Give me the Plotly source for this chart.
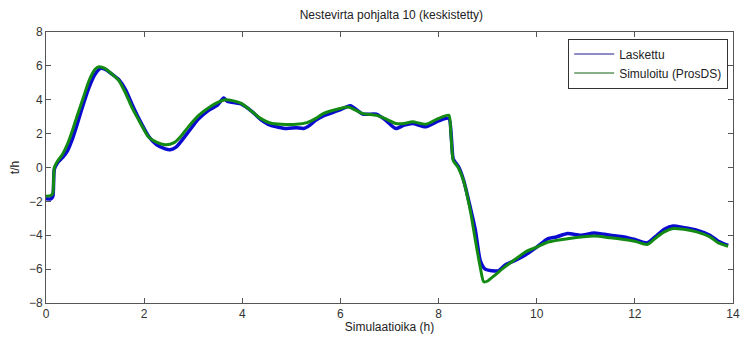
import plotly.graph_objects as go

# Simuloitu (ProsDS) - green
sim_x = [0, 0.1, 0.14, 0.17, 0.24, 0.34, 0.44, 0.54, 0.64, 0.74, 0.88, 1.0, 1.08, 1.2, 1.35, 1.48,
         1.62, 1.75, 1.89, 2.09, 2.25, 2.43, 2.6, 2.75, 2.9, 3.1, 3.3, 3.5, 3.66, 3.8, 3.97, 4.2,
         4.37, 4.57, 4.8, 5.1, 5.32, 5.5, 5.65, 5.99, 6.16, 6.3, 6.46, 6.73, 6.9, 7.13, 7.3, 7.47,
         7.74, 8.0, 8.21, 8.25, 8.3, 8.4, 8.51, 8.65, 8.75, 8.85, 8.92, 9.0, 9.15, 9.35, 9.55, 9.76,
         10.0, 10.23, 10.63, 11.17, 11.5, 11.78, 12.0, 12.25, 12.45, 12.6, 12.78, 13.0, 13.26, 13.53,
         13.7, 13.9]
sim_y = [-1.7, -1.65, -1.5, 0.0, 0.4, 0.8, 1.4, 2.2, 3.1, 3.95, 5.15, 5.8, 5.95, 5.85, 5.5, 5.15,
         4.4, 3.55, 2.8, 1.8, 1.5, 1.35, 1.45, 1.85, 2.4, 3.05, 3.5, 3.85, 4.0, 3.95, 3.8, 3.3,
         2.9, 2.63, 2.55, 2.55, 2.65, 2.9, 3.18, 3.48, 3.57, 3.4, 3.18, 3.08, 2.9, 2.6, 2.6, 2.7,
         2.55, 2.9, 3.08, 2.0, 0.4, 0.0, -0.8, -2.6, -4.3, -5.9, -6.75, -6.7, -6.35, -5.87, -5.45, -5.0,
         -4.7, -4.4, -4.2, -4.05, -4.15, -4.25, -4.35, -4.55, -4.1, -3.8, -3.6, -3.65, -3.8, -4.1,
         -4.45, -4.65]

# Laskettu - blue
las_x = [0, 0.1, 0.14, 0.17, 0.24, 0.34, 0.44, 0.54, 0.64, 0.74, 0.88, 1.0, 1.11, 1.2, 1.35, 1.48,
         1.62, 1.75, 1.89, 2.09, 2.25, 2.43, 2.53, 2.65, 2.9, 3.1, 3.3, 3.5, 3.62, 3.7, 3.97, 4.2,
         4.37, 4.57, 4.9, 5.1, 5.25, 5.38, 5.5, 5.65, 5.99, 6.2, 6.46, 6.73, 6.9, 7.13, 7.3, 7.47,
         7.74, 8.0, 8.21, 8.26, 8.3, 8.41, 8.51, 8.65, 8.75, 8.85, 8.95, 9.22, 9.35, 9.55, 9.76, 10.0,
         10.23, 10.4, 10.63, 10.9, 11.17, 11.5, 11.78, 12.0, 12.25, 12.45, 12.6, 12.78, 13.0, 13.26,
         13.53, 13.7, 13.9]
las_y = [-1.85, -1.85, -1.7, -0.1, 0.3, 0.6, 1.0, 1.7, 2.6, 3.55, 4.75, 5.5, 5.85, 5.8, 5.5, 5.2,
         4.6, 3.75, 2.9, 1.85, 1.35, 1.1, 1.05, 1.2, 2.1, 2.85, 3.35, 3.7, 4.1, 3.9, 3.75, 3.3,
         2.85, 2.5, 2.3, 2.35, 2.3, 2.5, 2.8, 3.05, 3.4, 3.65, 3.15, 3.15, 2.85, 2.3, 2.5, 2.6,
         2.4, 2.75, 2.9, 1.8, 0.5, 0.03, -0.75, -2.4, -3.7, -5.5, -6.0, -6.1, -5.77, -5.5, -5.18, -4.7,
         -4.2, -4.1, -3.9, -4.0, -3.87, -4.0, -4.1, -4.25, -4.45, -4.0, -3.65, -3.45, -3.55, -3.7,
         -4.0, -4.35, -4.6]

x_ticks = [0, 2, 4, 6, 8, 10, 12, 14]
y_ticks = [-8, -6, -4, -2, 0, 2, 4, 6, 8]

BLUE = "#0a0ad0"
GREEN = "#138a13"
FONT = "Liberation Sans Narrow, Liberation Sans, Arial, sans-serif"

fig = go.Figure()
fig.add_trace(go.Scatter(x=las_x, y=las_y, mode="lines",
                         line=dict(color=BLUE, width=3.5, shape="spline", smoothing=0.6),
                         showlegend=False, hoverinfo="skip"))
fig.add_trace(go.Scatter(x=sim_x, y=sim_y, mode="lines",
                         line=dict(color=GREEN, width=3, shape="spline", smoothing=0.6),
                         showlegend=False, hoverinfo="skip"))
# legend entries with thin lines
fig.add_trace(go.Scatter(x=[None], y=[None], mode="lines", name="Laskettu",
                         line=dict(color="#1a1a90", width=1)))
fig.add_trace(go.Scatter(x=[None], y=[None], mode="lines", name="Simuloitu (ProsDS)",
                         line=dict(color="#106010", width=1)))

axis_common = dict(showgrid=False, zeroline=False, showline=True, linecolor="#555555",
                   linewidth=1, mirror="ticks", ticks="inside", ticklen=5, tickcolor="#555555",
                   tickfont=dict(family=FONT, size=12, color="#333333"))

fig.update_layout(
    width=747, height=342,
    margin=dict(l=46, r=7, t=32, b=39),
    paper_bgcolor="white", plot_bgcolor="white",
    title=dict(text="Nestevirta pohjalta 10 (keskistetty)", x=0.524, xanchor="center",
               y=0.958, yanchor="middle", font=dict(family=FONT, size=12, color="#222222")),
    xaxis=dict(range=[0, 14], tickvals=x_ticks, title=dict(text="Simulaatioika (h)", standoff=2,
               font=dict(family=FONT, size=12, color="#222222")), **axis_common),
    yaxis=dict(range=[-8, 8], tickvals=y_ticks, title=dict(text="t/h", standoff=6,
               font=dict(family=FONT, size=12, color="#222222")), **axis_common),
    legend=dict(x=0.993, y=0.976, xanchor="right", yanchor="top", bgcolor="white",
                bordercolor="#333333", borderwidth=1, font=dict(family=FONT, size=12, color="#222222"),
                tracegroupgap=0, itemwidth=40),
    showlegend=True,
)

fig.write_html("out.html")
